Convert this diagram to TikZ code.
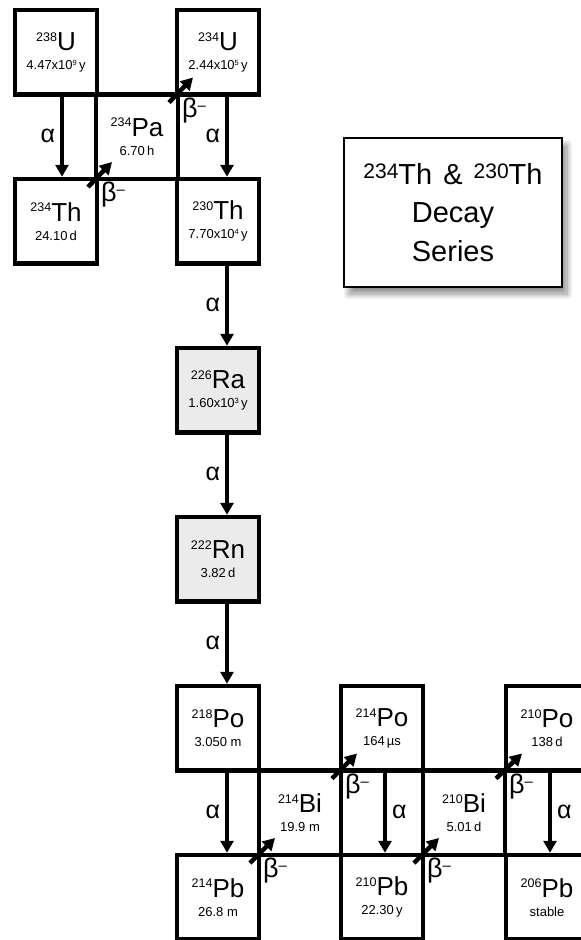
\documentclass[tikz,border=0pt]{standalone}
\usepackage{fontspec}
\setmainfont{Liberation Sans}
\usetikzlibrary{arrows.meta,calc,shadows.blur}
\definecolor{dkink}{HTML}{000000}
\definecolor{gasfill}{HTML}{EBEBEB}
\newcommand{\iso}[2]{\raisebox{9.5pt}{\fontsize{12.5}{12.5}\selectfont #1}#2}
\newcommand{\tiso}[2]{\raisebox{6pt}{\fontsize{21}{21}\selectfont #1}#2}
\newcommand{\ex}[1]{\raisebox{4.5pt}{\fontsize{7.5}{7.5}\selectfont #1}}
\newcommand{\hl}[1]{{\fontsize{13}{14}\selectfont #1}}
\newcommand{\bm}{β\raisebox{7pt}{\fontsize{15}{15}\selectfont –}}
\tikzset{
  nuc/.style={draw=dkink, line width=4.5pt, outer sep=0pt, inner sep=0pt, minimum width=82pt, minimum height=84.5pt, align=center, font=\fontsize{26}{19}\selectfont},
  gas/.style={nuc, fill=gasfill},
  ttl/.style={draw=dkink, line width=2.5pt, fill=white, minimum width=218pt, minimum height=149pt, align=center, font=\fontsize{29}{38.5}\selectfont, blur shadow={shadow xshift=5pt, shadow yshift=-7pt, shadow opacity=45, shadow blur steps=12, shadow blur radius=6pt}},
  alp/.style={line width=4pt, color=dkink, -{Triangle[length=12pt,width=13pt]}},
  bet/.style={line width=4.5pt, color=dkink, -{Triangle[length=12pt,width=13pt]}},
  lab/.style={font=\fontsize{25}{25}\selectfont, inner sep=0pt},
  blab/.style={font=\fontsize{27}{27}\selectfont, inner sep=0pt, anchor=north west},
}
\begin{document}
\begin{tikzpicture}[x=1pt, y=-1pt]
    \useasboundingbox (0,0) rectangle (581,940);
    \clip (0,0) rectangle (581,940);
    % uranium / thorium block
    \node[nuc] (u238) at (56,52.25) {\iso{238}{U}\\\hl{4.47x10\ex{9}\,y}};
    \node[nuc] (u234) at (218,52.25) {\iso{234}{U}\\\hl{2.44x10\ex{5}\,y}};
    \node[nuc] (pa234) at (137,136.75) {\iso{234}{Pa}\\\hl{6.70\,h}};
    \node[nuc] (th234) at (56,221.25) {\iso{234}{Th}\\\hl{24.10\,d}};
    \node[nuc] (th230) at (218,221.25) {\iso{230}{Th}\\\hl{7.70x10\ex{4}\,y}};
    % radium, radon
    \node[gas] (ra226) at (218,390.25) {\iso{226}{Ra}\\\hl{1.60x10\ex{3}\,y}};
    \node[gas] (rn222) at (218,559.25) {\iso{222}{Rn}\\\hl{3.82\,d}};
    % polonium / lead block
    \node[nuc] (po218) at (218,728.25) {\iso{218}{Po}\\\hl{3.050 m}};
    \node[nuc] (pb214) at (218,897.25) {\iso{214}{Pb}\\\hl{26.8 m}};
    \node[nuc] (bi214) at (300,812.75) {\iso{214}{Bi}\\\hl{19.9 m}};
    \node[nuc] (po214) at (382,728.25) {\iso{214}{Po}\\\hl{164\,µs}};
    \node[nuc] (pb210) at (382,897.25) {\iso{210}{Pb}\\\hl{22.30\,y}};
    \node[nuc] (bi210) at (464,812.75) {\iso{210}{Bi}\\\hl{5.01\,d}};
    \node[nuc] (po210) at (547,728.25) {\iso{210}{Po}\\\hl{138\,d}};
    \node[nuc] (pb206) at (547,897.25) {\iso{206}{Pb}\\\hl{stable}};
    % title
    \node[ttl] (title) at (453,212.5) {\tiso{234}{Th}\hspace{11pt}\&\hspace{11pt}\tiso{230}{Th}\\Decay\\Series};
    % alpha decays
    \foreach \a/\b/\dx in {u238/th234/6, u234/th230/9, th230/ra226/9, ra226/rn222/9, rn222/po218/9, po218/pb214/9}
      \draw[alp] ([xshift=\dx pt]\a.south) -- node[lab, left=5pt] {α} ([xshift=\dx pt, yshift=2.25pt]\b.north);
    \foreach \a/\b/\dx in {po214/pb210/3, po210/pb206/3}
      \draw[alp] ([xshift=\dx pt]\a.south) -- node[lab, right=5pt] {α} ([xshift=\dx pt, yshift=2.25pt]\b.north);
    % beta decays
    \foreach \a/\b in {th234/pa234, pa234/u234, pb214/bi214, bi214/po214, pb210/bi210, bi210/po210} {
      \draw[bet] ([shift={(-9,8)}]\a.north east) -- ([shift={(16,-17)}]\b.south west);
      \node[blab] at ([shift={(4,3)}]\a.north east) {\bm};
    }
  \end{tikzpicture}
\end{document}
